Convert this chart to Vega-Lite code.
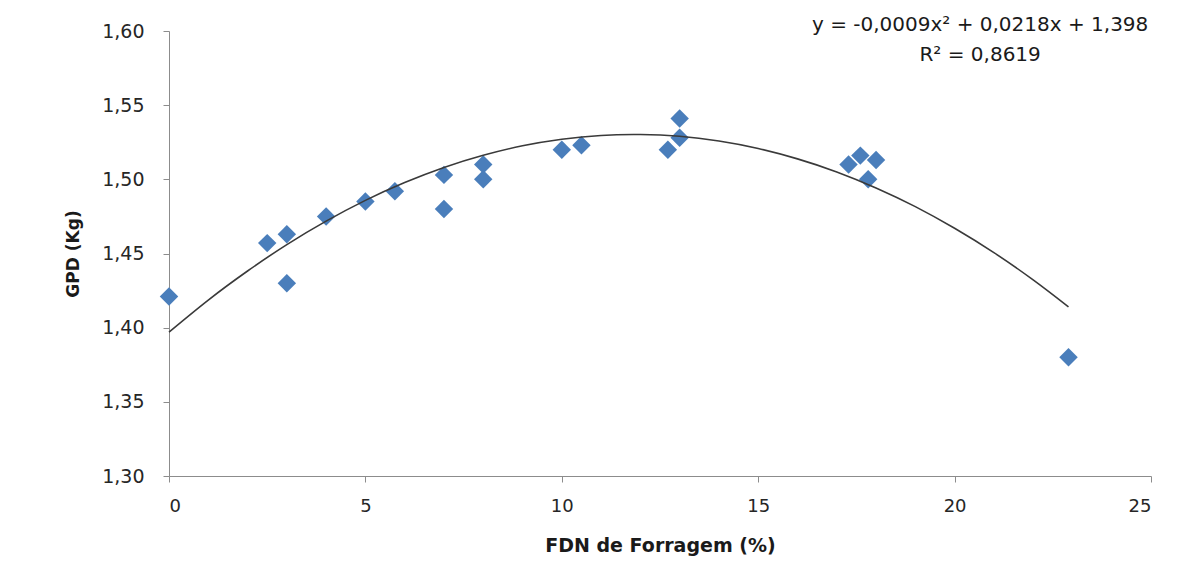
{
  "$schema": "https://vega.github.io/schema/vega-lite/v6.json",
  "width": 982,
  "height": 445,
  "autosize": {"type": "none"},
  "padding": {"left": 169, "top": 31, "right": 46, "bottom": 112},
  "background": "white",
  "config": {
    "view": {"stroke": null},
    "font": "DejaVu Sans",
    "axis": {
      "domainColor": "#8c8c8c",
      "tickColor": "#8c8c8c",
      "grid": false,
      "labelFont": "DejaVu Sans",
      "titleFont": "DejaVu Sans",
      "labelColor": "#262626",
      "titleColor": "#1a1a1a"
    }
  },
  "datasets": {
    "pts": [
      {"fdn": 0, "gpd": 1.421},
      {"fdn": 2.5, "gpd": 1.457},
      {"fdn": 3.0, "gpd": 1.463},
      {"fdn": 3.0, "gpd": 1.430},
      {"fdn": 4.0, "gpd": 1.475},
      {"fdn": 5.0, "gpd": 1.485},
      {"fdn": 5.75, "gpd": 1.492},
      {"fdn": 7.0, "gpd": 1.503},
      {"fdn": 7.0, "gpd": 1.480},
      {"fdn": 8.0, "gpd": 1.510},
      {"fdn": 8.0, "gpd": 1.500},
      {"fdn": 10.0, "gpd": 1.520},
      {"fdn": 10.5, "gpd": 1.523},
      {"fdn": 12.7, "gpd": 1.520},
      {"fdn": 13.0, "gpd": 1.528},
      {"fdn": 13.0, "gpd": 1.541},
      {"fdn": 17.3, "gpd": 1.510},
      {"fdn": 17.6, "gpd": 1.516},
      {"fdn": 18.0, "gpd": 1.513},
      {"fdn": 17.8, "gpd": 1.500},
      {"fdn": 22.9, "gpd": 1.380}
    ],
    "trend": [
      {"fdn": 0, "gpd": 1.397},
      {"fdn": 1, "gpd": 1.4186},
      {"fdn": 2, "gpd": 1.4382},
      {"fdn": 3, "gpd": 1.4560},
      {"fdn": 4, "gpd": 1.4718},
      {"fdn": 5, "gpd": 1.4858},
      {"fdn": 6, "gpd": 1.4978},
      {"fdn": 7, "gpd": 1.5080},
      {"fdn": 8, "gpd": 1.5162},
      {"fdn": 9, "gpd": 1.5226},
      {"fdn": 10, "gpd": 1.5270},
      {"fdn": 11, "gpd": 1.5296},
      {"fdn": 12, "gpd": 1.5302},
      {"fdn": 13, "gpd": 1.5290},
      {"fdn": 14, "gpd": 1.5258},
      {"fdn": 15, "gpd": 1.5208},
      {"fdn": 16, "gpd": 1.5138},
      {"fdn": 17, "gpd": 1.5050},
      {"fdn": 18, "gpd": 1.4942},
      {"fdn": 19, "gpd": 1.4816},
      {"fdn": 20, "gpd": 1.4670},
      {"fdn": 21, "gpd": 1.4506},
      {"fdn": 22, "gpd": 1.4322},
      {"fdn": 22.9, "gpd": 1.4140}
    ]
  },
  "layer": [
    {
      "data": {"name": "pts"},
      "mark": {"type": "point", "shape": "diamond", "filled": true, "size": 340, "color": "#4a7ebb", "opacity": 1},
      "encoding": {
        "x": {
          "field": "fdn", "type": "quantitative",
          "scale": {"domain": [0, 25], "nice": false, "zero": false},
          "axis": {
            "title": "FDN de Forragem (%)",
            "values": [0, 5, 10, 15, 20, 25],
            "tickSize": 6,
            "labelPadding": 15,
            "labelFontSize": 18,
            "titleFontSize": 19,
            "titleFontWeight": "bold",
            "titlePadding": 21
          }
        },
        "y": {
          "field": "gpd", "type": "quantitative",
          "scale": {"domain": [1.3, 1.6], "nice": false, "zero": false},
          "axis": {
            "title": "GPD (Kg)",
            "values": [1.3, 1.35, 1.4, 1.45, 1.5, 1.55, 1.6],
            "labelExpr": "replace(format(datum.value, '.2f'), '.', ',')",
            "tickSize": 6,
            "labelPadding": 19,
            "labelFontSize": 19,
            "titleFontSize": 17,
            "titleFontWeight": "bold",
            "titlePadding": 19
          }
        }
      }
    },
    {
      "data": {"name": "trend"},
      "mark": {"type": "line", "color": "#3a3a3a", "strokeWidth": 1.6, "interpolate": "natural"},
      "encoding": {
        "x": {"field": "fdn", "type": "quantitative"},
        "y": {"field": "gpd", "type": "quantitative"}
      }
    },
    {
      "data": {"values": [{}]},
      "mark": {"type": "text", "fontSize": 20, "font": "DejaVu Sans", "color": "#1a1a1a", "align": "center", "baseline": "middle", "lineBreak": "\n", "lineHeight": 30, "clip": false},
      "encoding": {
        "x": {"datum": 20.65, "type": "quantitative"},
        "y": {"datum": 1.604, "type": "quantitative"},
        "text": {"value": "y = -0,0009x² + 0,0218x + 1,398\nR² = 0,8619"}
      }
    }
  ]
}
